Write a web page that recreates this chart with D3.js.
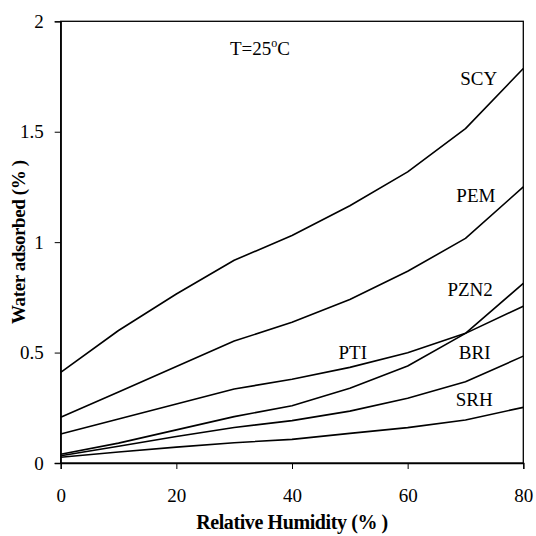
<!DOCTYPE html>
<html>
<head>
<meta charset="utf-8">
<script src="https://cdn.jsdelivr.net/npm/d3@7.9.0/dist/d3.min.js"></script>
<style>
  body { margin: 0; background: #fff; }
  svg text { font-family: "Liberation Serif", "Times New Roman", serif; fill: #000; }
</style>
</head>
<body>
<svg id="chart" width="536" height="536"></svg>
<script>
// relative humidity (%)
const humidity = [0, 10, 20, 30, 40, 50, 60, 70, 80];

// water adsorbed (%) per material
const scy  = [0.41, 0.60, 0.765, 0.918, 1.03, 1.165, 1.318, 1.514, 1.786];
const pem  = [0.207, 0.321, 0.437, 0.552, 0.637, 0.740, 0.868, 1.017, 1.25];
const pti  = [0.131, 0.199, 0.267, 0.335, 0.379, 0.433, 0.499, 0.587, 0.71];
const pzn2 = [0.04, 0.09, 0.15, 0.21, 0.259, 0.338, 0.439, 0.587, 0.813];
const bri  = [0.033, 0.076, 0.12, 0.161, 0.192, 0.235, 0.293, 0.368, 0.484];
const srh  = [0.026, 0.05, 0.072, 0.092, 0.107, 0.134, 0.16, 0.195, 0.252];

const seriesNames = ['SCY', 'PEM', 'PTI', 'PZN2', 'BRI', 'SRH'];
const seriesValues = [scy, pem, pti, pzn2, bri, srh];

const xTicks = [0, 20, 40, 60, 80];
const yTicks = [0, 0.5, 1, 1.5, 2];

// label anchor: humidity value and water value where each name sits
const labelRH    = [72.3, 71.8, 50.5, 70.8, 71.6, 71.5];
const labelWater = [1.71, 1.183, 0.472, 0.755, 0.472, 0.257];

const svg = d3.select('#chart');
const margin = { top: 21.3, right: 12.7, bottom: 73, left: 60.7 };
const width = 536 - margin.left - margin.right;
const height = 536 - margin.top - margin.bottom;

const x = d3.scaleLinear().domain([0, 80]).range([0, width]);
const y = d3.scaleLinear().domain([0, 2]).range([height, 0]);

const g = svg.append('g').attr('transform', `translate(${margin.left},${margin.top})`);

// frame
g.append('rect')
  .attr('width', width)
  .attr('height', height)
  .attr('fill', 'none')
  .attr('stroke', '#000')
  .attr('stroke-width', 1.3);

// axes
const xAxis = g.append('g')
  .attr('transform', `translate(0,${height})`)
  .call(d3.axisBottom(x).tickValues(xTicks).tickSize(6).tickPadding(20).tickFormat(d3.format('d')));
const yAxis = g.append('g')
  .call(d3.axisLeft(y).tickValues(yTicks).tickSize(6).tickPadding(11).tickFormat(d => d));

[xAxis, yAxis].forEach(ax => {
  ax.select('.domain').attr('stroke', '#000').attr('stroke-width', 1.3);
  ax.selectAll('.tick line').attr('stroke', '#000').attr('stroke-width', 1);
  ax.selectAll('.tick text')
    .attr('font-family', '"Liberation Serif", serif')
    .attr('font-size', 19)
    .attr('fill', '#000');
});

// lines
const line = d3.line()
  .x((d, i) => x(humidity[i]))
  .y(d => y(d));

seriesValues.forEach((vals) => {
  g.append('path')
    .datum(vals)
    .attr('d', line)
    .attr('fill', 'none')
    .attr('stroke', '#000')
    .attr('stroke-width', 1.6)
    .attr('stroke-linejoin', 'round');
});

// series names
seriesNames.forEach((name, i) => {
  g.append('text')
    .attr('x', x(labelRH[i]))
    .attr('y', y(labelWater[i]))
    .attr('font-size', 19)
    .attr('text-anchor', 'middle')
    .text(name);
});

// temperature note
const note = g.append('text')
  .attr('x', 169.3)
  .attr('y', 34)
  .attr('font-size', 19);
note.append('tspan').text('T=25');
note.append('tspan').attr('font-size', 12).attr('dy', -8).text('o');
note.append('tspan').attr('dy', 8).text('C');

// axis titles
svg.append('text')
  .attr('x', margin.left + width / 2)
  .attr('y', 529)
  .attr('text-anchor', 'middle')
  .attr('font-size', 20)
  .attr('font-weight', 'bold')
  .attr('letter-spacing', -0.4)
  .text('Relative Humidity (% )');

svg.append('text')
  .attr('transform', `translate(25,${margin.top + height / 2}) rotate(-90)`)
  .attr('text-anchor', 'middle')
  .attr('font-size', 19)
  .attr('font-weight', 'bold')
  .attr('letter-spacing', -0.4)
  .text('Water adsorbed (% )');
</script>
</body>
</html>
